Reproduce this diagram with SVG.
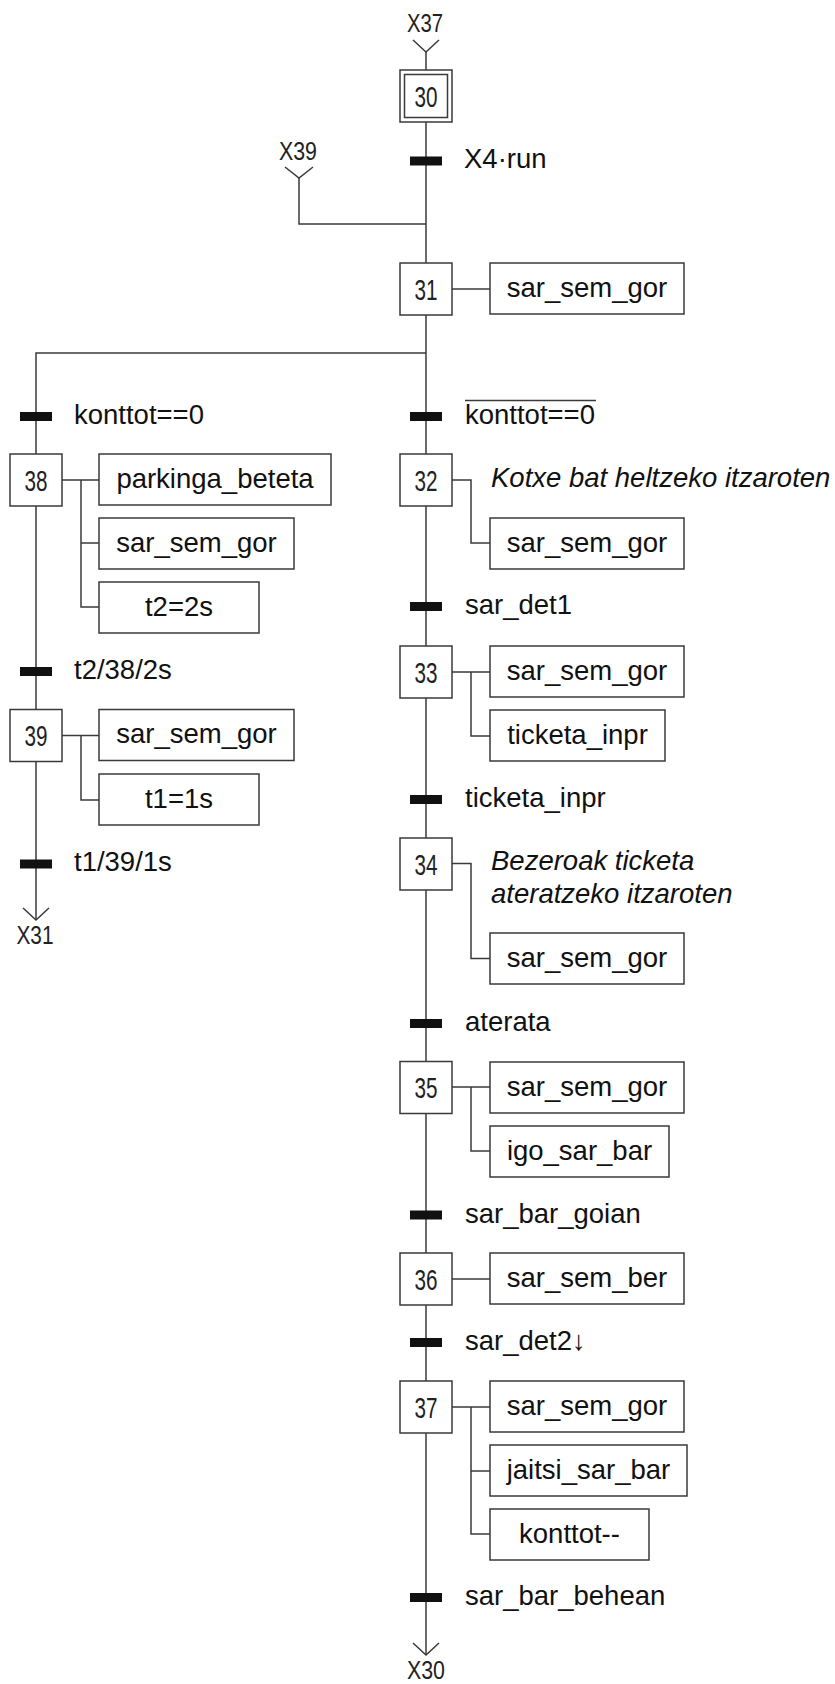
<svg xmlns="http://www.w3.org/2000/svg" width="835" height="1684" viewBox="0 0 835 1684">
  <style>
    .ln { fill: none; stroke: #3a3a3a; stroke-width: 1.5; }
    .box { fill: #fff; stroke: #3a3a3a; stroke-width: 1.5; }
    .bar { fill: #111; }
    .t { font-family: "Liberation Sans", Arial, sans-serif; font-size: 27.5px; fill: #111; }
    .c { text-anchor: middle; }
    .it { font-style: italic; }
    .num { font-family: "Liberation Sans", Arial, sans-serif; font-size: 30px; fill: #222; text-anchor: middle; }
    .ref { font-family: "Liberation Sans", Arial, sans-serif; font-size: 26px; fill: #222; text-anchor: middle; }
  </style>

  <!-- connectors: main vertical links, branches and action links -->
  <g id="connectors">
    <!-- entry from step 37 -->
    <polyline class="ln" points="413,40 426,52 439,40"/>
    <line class="ln" x1="426" y1="52" x2="426" y2="70"/>
    <!-- main column -->
    <line class="ln" x1="426" y1="122" x2="426" y2="1655"/>
    <polyline class="ln" points="413,1643 426,1655 439,1643"/>
    <!-- entry from step 39 -->
    <polyline class="ln" points="285,167 299,178 313,167"/>
    <polyline class="ln" points="299,178 299,224 426,224"/>
    <!-- divergence to the left branch -->
    <polyline class="ln" points="426,353 36,353 36,920"/>
    <polyline class="ln" points="23,908 36,920 49,908"/>

    <!-- action links -->
    <line class="ln" x1="452" y1="289" x2="490" y2="289"/>
    <polyline class="ln" points="452,480 471,480 471,543 490,543"/>
    <line class="ln" x1="452" y1="672" x2="490" y2="672"/>
    <polyline class="ln" points="471,672 471,736 490,736"/>
    <polyline class="ln" points="452,863.5 471,863.5 471,958.5 490,958.5"/>
    <line class="ln" x1="452" y1="1087" x2="490" y2="1087"/>
    <polyline class="ln" points="471,1087 471,1151 490,1151"/>
    <line class="ln" x1="452" y1="1279" x2="490" y2="1279"/>
    <line class="ln" x1="452" y1="1407" x2="490" y2="1407"/>
    <polyline class="ln" points="471,1407 471,1534 490,1534"/>
    <line class="ln" x1="471" y1="1471" x2="490" y2="1471"/>

    <line class="ln" x1="62" y1="480" x2="99" y2="480"/>
    <polyline class="ln" points="81,480 81,607 99,607"/>
    <line class="ln" x1="81" y1="543" x2="99" y2="543"/>
    <line class="ln" x1="62" y1="735.5" x2="99" y2="735.5"/>
    <polyline class="ln" points="81,735.5 81,800 99,800"/>
  </g>

  <!-- off-page references -->
  <g id="refs">
    <text class="ref" x="425" y="32" textLength="36" lengthAdjust="spacingAndGlyphs">X37</text>
    <text class="ref" x="298" y="160" textLength="38" lengthAdjust="spacingAndGlyphs">X39</text>
    <text class="ref" x="35" y="944" textLength="37" lengthAdjust="spacingAndGlyphs">X31</text>
    <text class="ref" x="426" y="1679" textLength="38" lengthAdjust="spacingAndGlyphs">X30</text>
  </g>

  <!-- steps -->
  <g id="step30">
    <rect class="box" x="400" y="70" width="52" height="52"/>
    <rect class="box" x="404.5" y="74.5" width="43" height="43"/>
    <text class="num" x="426" y="106.5" textLength="23" lengthAdjust="spacingAndGlyphs">30</text>
  </g>
  <g id="step31">
    <rect class="box" x="400" y="263" width="52" height="52"/>
    <text class="num" x="426" y="299.5" textLength="23" lengthAdjust="spacingAndGlyphs">31</text>
    <rect class="box" x="490" y="263" width="194" height="51"/>
    <text class="t c" x="587" y="296.5">sar_sem_gor</text>
  </g>
  <g id="step32">
    <rect class="box" x="400" y="454" width="52" height="52"/>
    <text class="num" x="426" y="490.5" textLength="23" lengthAdjust="spacingAndGlyphs">32</text>
    <text class="t it" x="491" y="487">Kotxe bat heltzeko itzaroten</text>
    <rect class="box" x="490" y="518" width="194" height="51"/>
    <text class="t c" x="587" y="551.5">sar_sem_gor</text>
  </g>
  <g id="step33">
    <rect class="box" x="400" y="646" width="52" height="52"/>
    <text class="num" x="426" y="682.5" textLength="23" lengthAdjust="spacingAndGlyphs">33</text>
    <rect class="box" x="490" y="646" width="194" height="51"/>
    <text class="t c" x="587" y="679.5">sar_sem_gor</text>
    <rect class="box" x="490" y="710" width="175" height="51"/>
    <text class="t c" x="577.5" y="743.5">ticketa_inpr</text>
  </g>
  <g id="step34">
    <rect class="box" x="400" y="838" width="52" height="52"/>
    <text class="num" x="426" y="874.5" textLength="23" lengthAdjust="spacingAndGlyphs">34</text>
    <text class="t it" x="491" y="870">Bezeroak ticketa</text>
    <text class="t it" x="491" y="902.5">ateratzeko itzaroten</text>
    <rect class="box" x="490" y="933" width="194" height="51"/>
    <text class="t c" x="587" y="966.5">sar_sem_gor</text>
  </g>
  <g id="step35">
    <rect class="box" x="400" y="1061.5" width="52" height="52"/>
    <text class="num" x="426" y="1098" textLength="23" lengthAdjust="spacingAndGlyphs">35</text>
    <rect class="box" x="490" y="1062" width="194" height="51"/>
    <text class="t c" x="587" y="1095.5">sar_sem_gor</text>
    <rect class="box" x="490" y="1126" width="179" height="51"/>
    <text class="t c" x="579.5" y="1159.5">igo_sar_bar</text>
  </g>
  <g id="step36">
    <rect class="box" x="400" y="1253" width="52" height="52"/>
    <text class="num" x="426" y="1289.5" textLength="23" lengthAdjust="spacingAndGlyphs">36</text>
    <rect class="box" x="490" y="1253" width="194" height="51"/>
    <text class="t c" x="587" y="1286.5">sar_sem_ber</text>
  </g>
  <g id="step37">
    <rect class="box" x="400" y="1381" width="52" height="52"/>
    <text class="num" x="426" y="1417.5" textLength="23" lengthAdjust="spacingAndGlyphs">37</text>
    <rect class="box" x="490" y="1381" width="194" height="51"/>
    <text class="t c" x="587" y="1414.5">sar_sem_gor</text>
    <rect class="box" x="490" y="1445" width="197" height="51"/>
    <text class="t c" x="588.5" y="1478.5">jaitsi_sar_bar</text>
    <rect class="box" x="490" y="1509" width="159" height="51"/>
    <text class="t c" x="569.5" y="1542.5">konttot--</text>
  </g>
  <g id="step38">
    <rect class="box" x="10" y="454" width="52" height="52"/>
    <text class="num" x="36" y="490.5" textLength="23" lengthAdjust="spacingAndGlyphs">38</text>
    <rect class="box" x="99" y="454" width="232" height="51"/>
    <text class="t c" x="215" y="487.5">parkinga_beteta</text>
    <rect class="box" x="99" y="518" width="195" height="51"/>
    <text class="t c" x="196.5" y="551.5">sar_sem_gor</text>
    <rect class="box" x="99" y="582" width="160" height="51"/>
    <text class="t c" x="179" y="615.5">t2=2s</text>
  </g>
  <g id="step39">
    <rect class="box" x="10" y="709.5" width="52" height="52"/>
    <text class="num" x="36" y="746" textLength="23" lengthAdjust="spacingAndGlyphs">39</text>
    <rect class="box" x="99" y="709.5" width="195" height="51"/>
    <text class="t c" x="196.5" y="743">sar_sem_gor</text>
    <rect class="box" x="99" y="774" width="160" height="51"/>
    <text class="t c" x="179" y="807.5">t1=1s</text>
  </g>

  <!-- transitions -->
  <g id="tr30-31">
    <rect class="bar" x="410" y="156.5" width="32" height="9"/>
    <text class="t" x="464" y="168">X4·run</text>
  </g>
  <g id="tr31-38">
    <rect class="bar" x="20" y="412" width="32" height="9"/>
    <text class="t" x="74" y="423.5">konttot==0</text>
  </g>
  <g id="tr31-32">
    <rect class="bar" x="410" y="412" width="32" height="9"/>
    <text class="t" x="465" y="423.5">konttot==0</text>
    <line class="ln" x1="465" y1="400.5" x2="596" y2="400.5"/>
  </g>
  <g id="tr32-33">
    <rect class="bar" x="410" y="602" width="32" height="9"/>
    <text class="t" x="465" y="614">sar_det1</text>
  </g>
  <g id="tr33-34">
    <rect class="bar" x="410" y="795" width="32" height="9"/>
    <text class="t" x="465" y="806.5">ticketa_inpr</text>
  </g>
  <g id="tr34-35">
    <rect class="bar" x="410" y="1019" width="32" height="9"/>
    <text class="t" x="465" y="1030.5">aterata</text>
  </g>
  <g id="tr35-36">
    <rect class="bar" x="410" y="1210.5" width="32" height="9"/>
    <text class="t" x="465" y="1222.5">sar_bar_goian</text>
  </g>
  <g id="tr36-37">
    <rect class="bar" x="410" y="1338" width="32" height="9"/>
    <text class="t" x="465" y="1349.5">sar_det2↓</text>
  </g>
  <g id="tr37-30">
    <rect class="bar" x="410" y="1593" width="32" height="9"/>
    <text class="t" x="465" y="1604.5">sar_bar_behean</text>
  </g>
  <g id="tr38-39">
    <rect class="bar" x="20" y="667" width="32" height="9"/>
    <text class="t" x="74" y="679">t2/38/2s</text>
  </g>
  <g id="tr39-31">
    <rect class="bar" x="20" y="859.5" width="32" height="9"/>
    <text class="t" x="74" y="871">t1/39/1s</text>
  </g>
</svg>
